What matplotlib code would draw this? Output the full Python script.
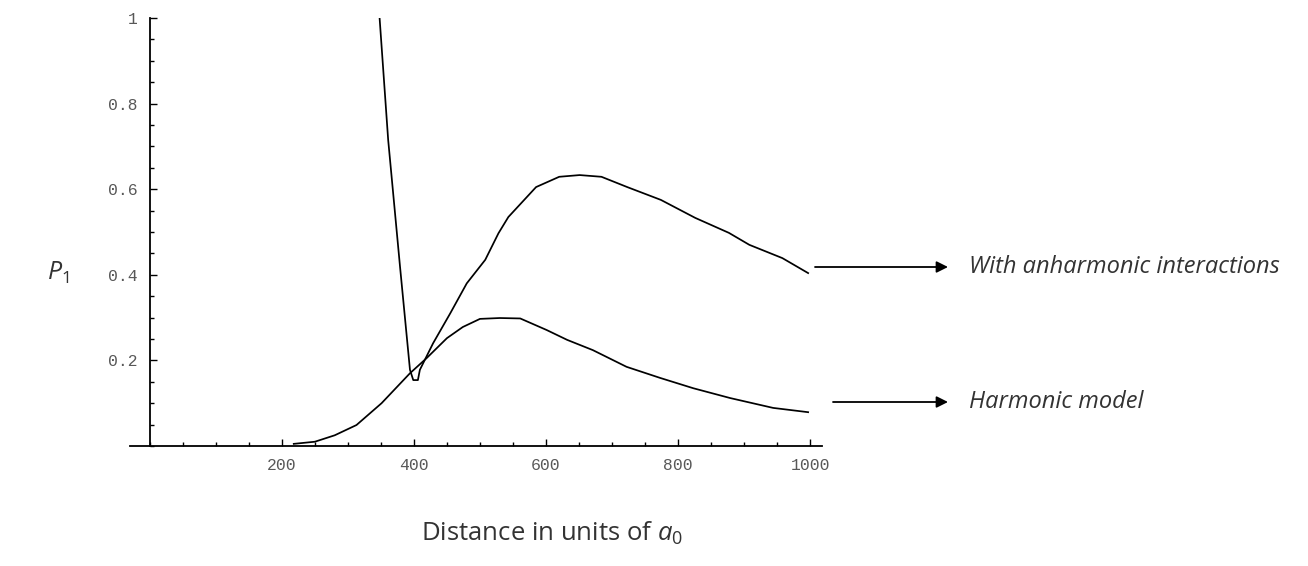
import matplotlib
matplotlib.use("Agg")
import matplotlib.pyplot as plt
from matplotlib.ticker import MultipleLocator

plt.rcParams['mathtext.fontset'] = 'custom'
plt.rcParams['mathtext.it'] = 'Open Sans:italic'
plt.rcParams['mathtext.rm'] = 'Open Sans'

# harmonic model curve
x_harm = [218, 250, 280, 313, 351, 394, 419, 450, 474, 500, 530, 561,
          601, 632, 671, 722, 773, 823, 879, 944, 997]
p_harm = [0.005, 0.010, 0.025, 0.049, 0.100, 0.170, 0.205, 0.252, 0.278,
          0.297, 0.299, 0.298, 0.271, 0.248, 0.224, 0.185, 0.159, 0.135,
          0.112, 0.089, 0.079]

# with anharmonic interactions
x_anh = [348, 361, 379, 394, 399, 406, 409, 429, 455, 480, 508, 528,
         543, 564, 585, 620, 651, 684, 723, 774, 826, 877, 908, 958, 997]
p_anh = [1.000, 0.715, 0.418, 0.178, 0.154, 0.154, 0.178, 0.240, 0.310,
         0.380, 0.435, 0.497, 0.535, 0.570, 0.605, 0.629, 0.633, 0.629,
         0.605, 0.575, 0.533, 0.498, 0.470, 0.439, 0.404]

xticks = [200, 400, 600, 800, 1000]
yticks = [0.2, 0.4, 0.6, 0.8, 1]
ytick_labels = ['0.2', '0.4', '0.6', '0.8', '1']

fig = plt.figure(figsize=(13.08, 5.66), dpi=100)
ax = fig.add_axes([130 / 1308, 1 - 446 / 566, 692 / 1308, 428 / 566])

ax.plot(x_harm, p_harm, color='black', lw=1.25)
ax.plot(x_anh, p_anh, color='black', lw=1.25)

ax.set_xlim(-30, 1018)
ax.set_ylim(0, 1)

# Mathematica-style axes crossing at the origin
for s in ['top', 'right']:
    ax.spines[s].set_visible(False)
ax.spines['left'].set_position(('data', 0))
ax.spines['left'].set_linewidth(1.3)
ax.spines['bottom'].set_linewidth(1.3)

ax.set_xticks(xticks)
ax.set_yticks(yticks)
ax.set_yticklabels(ytick_labels)
ax.xaxis.set_minor_locator(MultipleLocator(50))
ax.yaxis.set_minor_locator(MultipleLocator(0.05))
ax.tick_params(which='major', direction='in', length=5, width=1, colors='black',
               labelcolor='#585858', labelsize=11.8)
ax.tick_params(which='minor', direction='in', length=3, width=1, colors='black')
ax.tick_params(axis='x', pad=9)
ax.tick_params(axis='y', pad=9)
for lab in ax.get_xticklabels() + ax.get_yticklabels():
    lab.set_family('Liberation Mono')

# labels
fig.text(552 / 1308, 1 - 533 / 566, r"Distance in units of $a_0$", ha='center',
         va='center', fontsize=18.5, family='Open Sans', color='#333333')
fig.text(58 / 1308, 1 - 273 / 566, r"$P_{\mathit{1}}$", ha='center', va='center',
         fontsize=18, color='#333333')

# arrows with curve names
notes = [("With anharmonic interactions", 815, 267),
         ("Harmonic model", 833, 402)]
for txt, x0, y0 in notes:
    ax.annotate("", xy=(948 / 1308, 1 - y0 / 566), xytext=(x0 / 1308, 1 - y0 / 566),
                xycoords='figure fraction', textcoords='figure fraction',
                arrowprops=dict(arrowstyle='-|>', color='black', lw=1.3,
                                mutation_scale=17, shrinkA=0, shrinkB=0))
    fig.text(969 / 1308, 1 - y0 / 566, txt, ha='left', va='center', fontsize=17,
             family='Open Sans', style='italic', color='#333333')

fig.savefig("out.png", dpi=100)
